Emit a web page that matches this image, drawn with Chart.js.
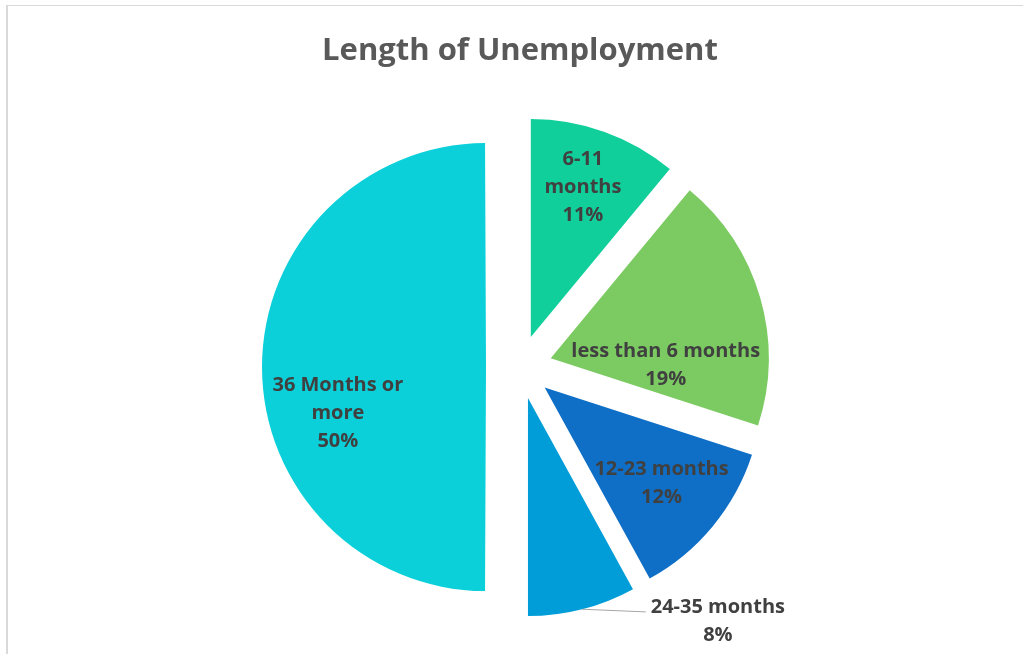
<!DOCTYPE html>
<html>
<head>
<meta charset="utf-8">
<script src="https://cdn.jsdelivr.net/npm/chart.js@4/dist/chart.umd.min.js"></script>
<style>
  html, body { margin: 0; padding: 0; background: #ffffff; }
  #wrap { position: relative; width: 1023px; height: 654px; overflow: hidden; }
  #frame { position: absolute; left: 6px; top: 5px; width: 1030px; height: 660px;
           border-left: 2px solid #d9d9d9; border-top: 1px solid #d9d9d9; }
  #c { position: absolute; left: 0; top: 0; }
</style>
</head>
<body>
<div id="wrap">
  <div id="frame"></div>
  <canvas id="c" width="1023" height="654"></canvas>
</div>
<script>
// ---- data ----
const categories = ["6-11 months", "less than 6 months", "12-23 months", "24-35 months", "36 Months or more"];
const shares = [11, 19, 12, 8, 50];
const chartTitle = "Length of Unemployment";

// ---- style ----
const sliceColors = ["#10CF9B", "#7CCA62", "#0F6FC6", "#009DD9", "#0BD0D9"];
const explode = [32, 32, 32, 32, 28];          // px pushed out along the bisector
const arcOffset = [0, 0, 0, 0, 24];            // Chart.js arc offset option
const labelAngle = [19, 92.7, 128.8, 139.3, 253.4];   // deg, clockwise from top
const labelDist = [0.734, 0.528, 0.688, 1.336, 0.69]; // fraction of radius
const labelWrap = [90, 240, 240, 240, 160];
const leader = [false, false, false, true, false];
const FONT = "'Open Sans', Lato, sans-serif";

function wrapText(ctx, text, maxW) {
  const words = text.split(' ');
  const lines = [];
  let cur = '';
  for (const w of words) {
    const t = cur ? cur + ' ' + w : w;
    if (ctx.measureText(t).width > maxW && cur) { lines.push(cur); cur = w; }
    else cur = t;
  }
  if (cur) lines.push(cur);
  return lines;
}

const explodePlugin = {
  id: 'explode',
  beforeDatasetDraw(chart, args) {
    const ctx = chart.ctx;
    const meta = args.meta;
    meta.data.forEach((el, i) => {
      const mid = (el.startAngle + el.endAngle) / 2;
      ctx.save();
      ctx.translate(Math.cos(mid) * explode[i], Math.sin(mid) * explode[i]);
      el.draw(ctx, chart.chartArea);
      ctx.restore();
    });
    return false;
  },
  afterDatasetsDraw(chart) {
    const ctx = chart.ctx;
    const meta = chart.getDatasetMeta(0);
    ctx.save();
    ctx.font = "bold 20px " + FONT;
    ctx.fillStyle = "#404040";
    ctx.textAlign = "center";
    ctx.textBaseline = "middle";
    const lh = 28;
    meta.data.forEach((el, i) => {
      const mid = (el.startAngle + el.endAngle) / 2;
      const push = explode[i] + arcOffset[i] / 4;
      const cx = el.x + Math.cos(mid) * push;
      const cy = el.y + Math.sin(mid) * push;
      const R = el.outerRadius + (arcOffset[i] / 4) * (1 - Math.sin(Math.min(Math.PI, el.circumference)));
      const a = (labelAngle[i] - 90) * Math.PI / 180;
      const lx = cx + Math.cos(a) * labelDist[i] * R;
      const ly = cy + Math.sin(a) * labelDist[i] * R;
      const lines = wrapText(ctx, categories[i], labelWrap[i]);
      lines.push(shares[i] + "%");
      const y0 = ly - (lines.length - 1) * lh / 2 + 2;
      lines.forEach((t, k) => ctx.fillText(t, lx, y0 + k * lh));
      if (leader[i]) {
        const w = ctx.measureText(lines[0]).width;
        const sx = cx + Math.cos(mid) * R;
        const sy = cy + Math.sin(mid) * R;
        ctx.beginPath();
        ctx.strokeStyle = "#a6a6a6";
        ctx.lineWidth = 1;
        ctx.moveTo(sx, sy);
        ctx.lineTo(lx - w / 2 - 5, y0 + 5);
        ctx.stroke();
      }
    });
    ctx.restore();
  }
};

new Chart(document.getElementById('c'), {
  type: 'pie',
  data: {
    labels: categories,
    datasets: [{
      data: shares,
      backgroundColor: sliceColors,
      borderWidth: 0,
      offset: arcOffset
    }]
  },
  options: {
    responsive: false,
    animation: false,
    events: [],
    radius: 218,
    layout: { padding: { left: 17, right: 0, top: 0, bottom: 0 } },
    plugins: {
      legend: { display: false },
      tooltip: { enabled: false },
      title: {
        display: true,
        text: chartTitle,
        color: "#595959",
        font: { family: FONT, size: 31, weight: 'bold' },
        padding: { top: 33, bottom: 10 }
      }
    }
  },
  plugins: [explodePlugin]
});
</script>
</body>
</html>
